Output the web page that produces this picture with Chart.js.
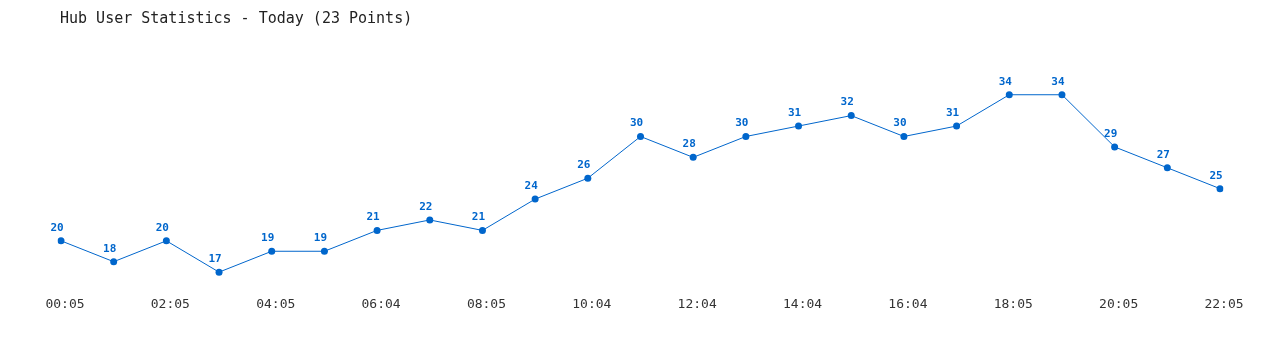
<!DOCTYPE html>
<html lang="en">
<head>
	<meta charset="UTF-8">
	<title>Hub User Statistics</title>
	<script src="https://cdn.jsdelivr.net/npm/chart.js"></script>
	<style>
		body {
			margin: 0;
			background: #fff;
		}

		#wrap {
			position: relative;
			width: 1280px;
			height: 350px;
		}

		#title {
			position: absolute;
			left: 60px;
			top: 9px;
			font-family: "DejaVu Sans Mono", monospace;
			font-size: 15px;
			color: #222;
			-webkit-font-smoothing: none;
		}
	</style>
</head>
<body>
	<div id="wrap">
		<div id="title">Hub User Statistics - Today (23 Points)</div>
		<canvas id="hubChart" width="1280" height="350"></canvas>
	</div>

	<script>
		// times of each sample (every other one is shown on the axis)
		const times = ['00:05', '01:05', '02:05', '03:05', '04:05', '05:05', '06:04', '07:05',
			'08:05', '09:05', '10:04', '11:04', '12:04', '13:04', '14:04', '15:04',
			'16:04', '17:04', '18:05', '19:05', '20:05', '21:05', '22:05'];
		const users = [20, 18, 20, 17, 19, 19, 21, 22, 21, 24, 26, 30, 28, 30, 31, 32, 30, 31, 34, 34, 29, 27, 25];

		const blue = '#0066cc';

		// draw the value above each point
		const valueLabels = {
			id: 'valueLabels',
			afterDatasetsDraw(chart) {
				const ctx = chart.ctx;
				const meta = chart.getDatasetMeta(0);
				ctx.save();
				ctx.font = 'bold 11px "DejaVu Sans Mono", monospace';
				ctx.fillStyle = blue;
				ctx.textAlign = 'center';
				ctx.textBaseline = 'middle';
				meta.data.forEach((pt, i) => {
					ctx.fillText(String(users[i]), pt.x - 4, pt.y - 13);
				});
				ctx.restore();
			}
		};

		const ctx = document.getElementById('hubChart').getContext('2d');
		const hubChart = new Chart(ctx, {
			type: 'line',
			data: {
				labels: times,
				datasets: [{
					label: 'Users',
					data: users,
					borderColor: blue,
					backgroundColor: blue,
					borderWidth: 1,
					pointRadius: 3.5,
					pointHoverRadius: 3.5,
					pointBorderWidth: 0,
					fill: false,
					tension: 0
				}]
			},
			options: {
				responsive: false,
				animation: false,
				layout: {
					padding: { top: 53, bottom: 0, left: 61, right: 60 }
				},
				plugins: {
					legend: { display: false },
					tooltip: { enabled: false }
				},
				scales: {
					x: {
						offset: false,
						grid: { display: false, drawTicks: false },
						border: { display: false },
						afterFit: function (scale) { scale.height = 57; },
						ticks: {
							autoSkip: false,
							maxRotation: 0,
							padding: 4,
							labelOffset: 4,
							color: '#333',
							font: { family: '"DejaVu Sans Mono", monospace', size: 13 },
							callback: function (value, index) {
								return index % 2 === 0 ? times[index] : '';
							}
						}
					},
					y: {
						display: false,
						min: 15,
						max: 38
					}
				}
			},
			plugins: [valueLabels]
		});
	</script>
</body>
</html>
